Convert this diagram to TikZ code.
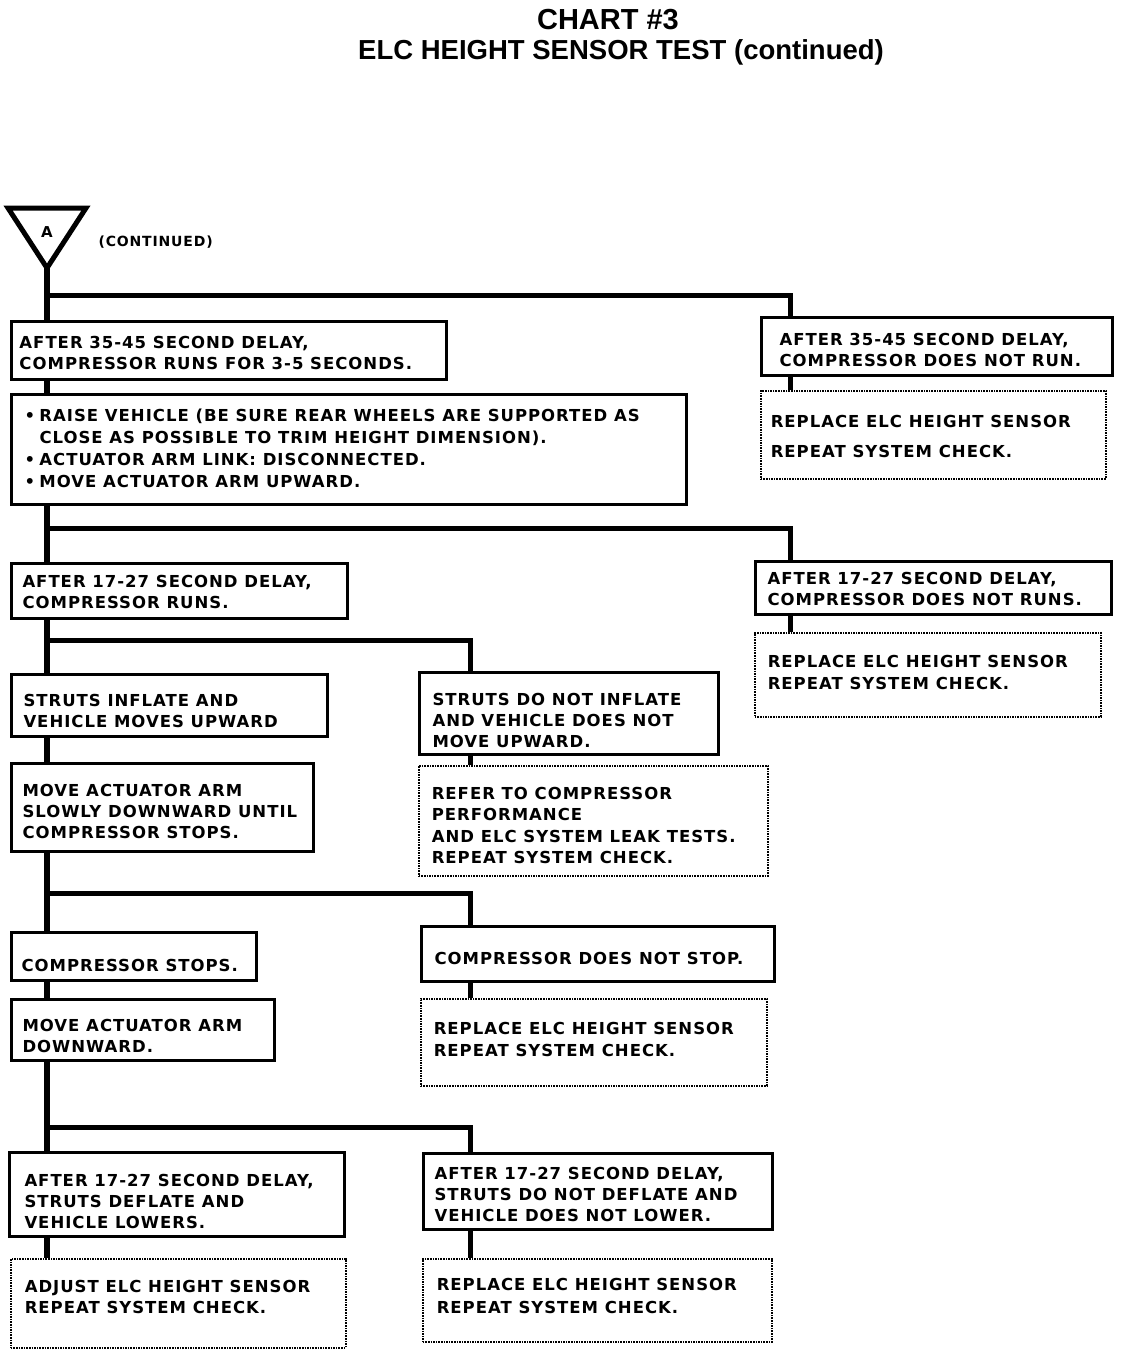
\documentclass[tikz,border=0pt]{standalone}
\usepackage{fontspec}
\setmainfont{DejaVu Sans}[LetterSpace=6]
\newfontfamily\titlefont{Liberation Sans}
\usetikzlibrary{calc}
% box text: width, height, top offset, lines
\newcommand\bxt[4]{\parbox[c][#2pt][t]{#1pt}{\raggedright\vspace*{#3pt}#4}}
\newcommand\bul{\makebox[15pt][l]{\textbullet}}
\begin{document}
\begin{tikzpicture}[x=1pt,y=-1pt,
  txt/.style={font=\fontsize{16.5}{21}\selectfont\bfseries},
  box/.style={draw, line width=3pt, fill=white, anchor=north west,
    inner ysep=0pt, txt},
  dbox/.style={box, line width=1.6pt, densely dotted},
  trunk/.style={line width=6pt},
  conn/.style={line width=5pt}]
\fill[white] (0,0) rectangle (1120,1354);
\useasboundingbox (0,0) rectangle (1120,1354);

% title
\node[font=\titlefont\fontsize{29}{30}\selectfont\bfseries] (t1) at (608,20) {CHART \#3};
\node[font=\titlefont\fontsize{27.5}{28}\selectfont\bfseries] (t2) at (621,52) {ELC HEIGHT SENSOR TEST (continued)};

% connector triangle
\draw[line width=5pt, line join=miter] (8,208) -- (86,208) -- (47,268) -- cycle;
\coordinate (tri) at (47,268);
\node[font=\fontsize{15}{18}\selectfont\bfseries] (A) at (47,232) {A};
\node[font=\fontsize{14}{16}\selectfont\bfseries, anchor=west] (cont) at (95,242) {(CONTINUED)};

% boxes
\node[box, inner xsep=8pt] (b1) at (10,320)
  {\bxt{419}{58}{15}{AFTER 35-45 SECOND DELAY,\\COMPRESSOR RUNS FOR 3-5 SECONDS.}};
\node[box, inner xsep=18pt] (r1) at (760,316)
  {\bxt{315}{58}{16}{AFTER 35-45 SECOND DELAY,\\COMPRESSOR DOES NOT RUN.}};
\node[dbox, inner xsep=10pt] (r1b) at (760,390)
  {\bxt{325}{88}{24}{REPLACE ELC HEIGHT SENSOR\\[9pt]REPEAT SYSTEM CHECK.}};
\node[box, inner xsep=13pt] (b2) at (10,393)
  {\bxt{649}{110}{14}{\bul RAISE VEHICLE (BE SURE REAR WHEELS ARE SUPPORTED AS\\[1pt]
   \hspace*{15pt}CLOSE AS POSSIBLE TO TRIM HEIGHT DIMENSION).\\[1pt]
   \bul ACTUATOR ARM LINK: DISCONNECTED.\\[1pt]
   \bul MOVE ACTUATOR ARM UPWARD.}};

\node[box, inner xsep=11pt] (l3) at (10,562)
  {\bxt{314}{55}{12}{AFTER 17-27 SECOND DELAY,\\COMPRESSOR RUNS.}};
\node[box, inner xsep=12pt] (r3) at (754,560)
  {\bxt{332}{53}{11}{AFTER 17-27 SECOND DELAY,\\COMPRESSOR DOES NOT RUNS.}};
\node[dbox, inner xsep=13pt] (r3b) at (754,632)
  {\bxt{320}{84}{22}{REPLACE ELC HEIGHT SENSOR\\[1pt]REPEAT SYSTEM CHECK.}};

\node[box, inner xsep=12pt] (l4) at (10,673)
  {\bxt{292}{62}{20}{STRUTS INFLATE AND\\VEHICLE MOVES UPWARD}};
\node[box, inner xsep=13pt] (m4) at (418,671)
  {\bxt{273}{82}{21}{STRUTS DO NOT INFLATE\\AND VEHICLE DOES NOT\\MOVE UPWARD.}};
\node[dbox, inner xsep=13pt] (m4b) at (418,765)
  {\bxt{323}{110}{21}{REFER TO COMPRESSOR\\[0.5pt]PERFORMANCE\\[0.5pt]AND ELC SYSTEM LEAK TESTS.\\[0.5pt]REPEAT SYSTEM CHECK.}};

\node[box, inner xsep=11pt] (l5) at (10,762)
  {\bxt{280}{88}{21}{MOVE ACTUATOR ARM\\SLOWLY DOWNWARD UNTIL\\COMPRESSOR STOPS.}};

\node[box, inner xsep=10pt] (l6) at (10,931)
  {\bxt{225}{48}{27}{COMPRESSOR STOPS.}};
\node[box, inner xsep=13pt] (m6) at (420,925)
  {\bxt{327}{55}{26}{COMPRESSOR DOES NOT STOP.}};
\node[dbox, inner xsep=13pt] (m6b) at (420,998)
  {\bxt{320}{87}{23}{REPLACE ELC HEIGHT SENSOR\\[1pt]REPEAT SYSTEM CHECK.}};

\node[box, inner xsep=11pt] (l7) at (10,998)
  {\bxt{241}{61}{20}{MOVE ACTUATOR ARM\\DOWNWARD.}};

\node[box, inner xsep=15pt] (l8) at (8,1151)
  {\bxt{305}{84}{22}{AFTER 17-27 SECOND DELAY,\\STRUTS DEFLATE AND\\VEHICLE LOWERS.}};
\node[box, inner xsep=11pt] (m8) at (422,1152)
  {\bxt{327}{76}{14}{AFTER 17-27 SECOND DELAY,\\STRUTS DO NOT DEFLATE AND\\VEHICLE DOES NOT LOWER.}};
\node[dbox, inner xsep=14pt] (m8b) at (422,1258)
  {\bxt{321}{83}{19}{REPLACE ELC HEIGHT SENSOR\\[2pt]REPEAT SYSTEM CHECK.}};
\node[dbox, inner xsep=14pt] (l8b) at (10,1258)
  {\bxt{307}{89}{21}{ADJUST ELC HEIGHT SENSOR\\REPEAT SYSTEM CHECK.}};

% junction points on the trunk
\coordinate (j1) at (47,295);
\coordinate (j2) at (47,528);
\coordinate (j3) at (47,640);
\coordinate (j4) at (47,893);
\coordinate (j5) at (47,1127);

% trunk
\draw[trunk] (tri) -- (b1.north -| tri);
\draw[trunk] (b1.south -| tri) -- (b2.north -| tri);
\draw[trunk] (b2.south -| tri) -- (l3.north -| tri);
\draw[trunk] (l3.south -| tri) -- (l4.north -| tri);
\draw[trunk] (l4.south -| tri) -- (l5.north -| tri);
\draw[trunk] (l5.south -| tri) -- (l6.north -| tri);
\draw[trunk] (l6.south -| tri) -- (l7.north -| tri);
\draw[trunk] (l7.south -| tri) -- (l8.north -| tri);
\draw[trunk] (l8.south -| tri) -- (l8b.north -| tri);

% branches
\draw[conn, line join=miter] (j1) -| ($(r1.north west)+(30,0)$);
\draw[conn] ($(r1.south west)+(30,0)$) -- ($(r1b.north west)+(30,0)$);
\draw[conn, line join=miter] (j2) -| ($(r3.north west)+(36,0)$);
\draw[conn] ($(r3.south west)+(36,0)$) -- ($(r3b.north west)+(36,0)$);
\draw[conn, line join=miter] (j3) -| ($(m4.north west)+(52,0)$);
\draw[conn] ($(m4.south west)+(52,0)$) -- ($(m4b.north west)+(52,0)$);
\draw[conn, line join=miter] (j4) -| ($(m6.north west)+(50,0)$);
\draw[conn] ($(m6.south west)+(50,0)$) -- ($(m6b.north west)+(50,0)$);
\draw[conn, line join=miter] (j5) -| ($(m8.north west)+(48,0)$);
\draw[conn] ($(m8.south west)+(48,0)$) -- ($(m8b.north west)+(48,0)$);
\end{tikzpicture}
\end{document}
